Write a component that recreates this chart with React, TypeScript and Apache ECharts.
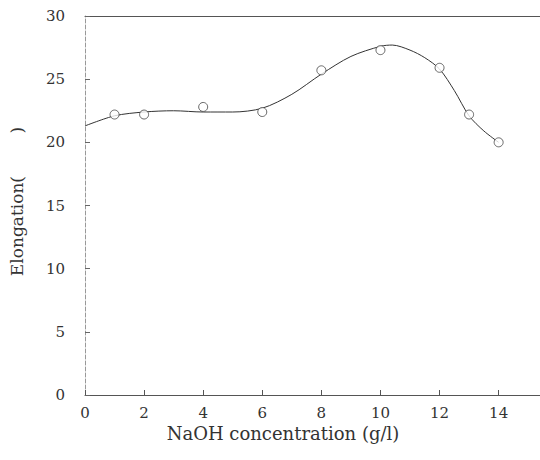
import React, { useEffect, useRef } from "react";
import * as echarts from "echarts";

const xTicks = [0, 2, 4, 6, 8, 10, 12, 14];
const measuredX = [1, 2, 4, 6, 8, 10, 12, 13, 14];
const measuredY = [22.2, 22.2, 22.8, 22.4, 25.7, 27.3, 25.9, 22.2, 20.0];
const fitX = [0, 1, 2, 3, 4, 5, 6, 7, 8, 9, 10, 10.4, 11, 11.5, 12, 12.5, 13, 13.5, 14];
const fitY = [21.3, 22.1, 22.4, 22.5, 22.4, 22.4, 22.7, 23.8, 25.4, 26.8, 27.6, 27.7, 27.3, 26.7, 25.8, 24.1, 22.1, 20.9, 20.0];

const FONT = "DejaVu Serif";

export default function App() {
  const ref = useRef<HTMLDivElement>(null);
  useEffect(() => {
    if (!ref.current) return;
    const chart = echarts.init(ref.current, null, { renderer: "svg" });
    chart.setOption({
      animation: false,
      backgroundColor: "#ffffff",
      grid: { left: 85, right: 0, top: 16, bottom: 65 },
      xAxis: [
        {
          type: "value",
          min: 0,
          max: 15.4,
          axisLine: { show: true, lineStyle: { color: "#555", width: 1 } },
          axisTick: { show: true, inside: true, length: 5, customValues: xTicks, lineStyle: { color: "#555" } },
          axisLabel: { customValues: xTicks, margin: 10, fontFamily: FONT, fontSize: 15, color: "#333" },
          splitLine: { show: false },
          name: "NaOH concentration (g/l)",
          nameLocation: "middle",
          nameGap: 28,
          nameTextStyle: { fontFamily: FONT, fontSize: 18, color: "#333", padding: [0, 59, 0, 0] },
        },
        {
          type: "value",
          position: "top",
          min: 0,
          max: 15.4,
          axisLine: { show: true, onZero: false, lineStyle: { color: "#555", width: 1 } },
          axisTick: { show: false },
          axisLabel: { show: false },
          splitLine: { show: false },
        },
      ],
      yAxis: {
        type: "value",
        min: 0,
        max: 30,
        interval: 5,
        axisLine: { show: true, lineStyle: { color: "#999", width: 1, type: "dashed" } },
        axisTick: { show: true, inside: true, length: 5, lineStyle: { color: "#666" } },
        axisLabel: { margin: 20, fontFamily: FONT, fontSize: 15, color: "#333" },
        splitLine: { show: false },
        name: "Elongation(\u2003\u2003\u2002)",
        nameLocation: "middle",
        nameGap: 60,
        nameTextStyle: { fontFamily: FONT, fontSize: 17, color: "#333", padding: [0, 0, 0, 8] },
      },
      series: [
        {
          type: "line",
          data: fitX.map((x, i) => [x, fitY[i]]),
          smooth: 0.3,
          showSymbol: false,
          lineStyle: { color: "#333", width: 1 },
          z: 2,
        },
        {
          type: "scatter",
          data: measuredX.map((x, i) => [x, measuredY[i]]),
          symbol: "circle",
          symbolSize: 9,
          itemStyle: { color: "#fff", borderColor: "#444", borderWidth: 1 },
          z: 3,
        },
      ],
    });
    return () => chart.dispose();
  }, []);
  return <div ref={ref} style={{ width: 540, height: 460, position: "absolute", left: 0, top: 0 }} />;
}
